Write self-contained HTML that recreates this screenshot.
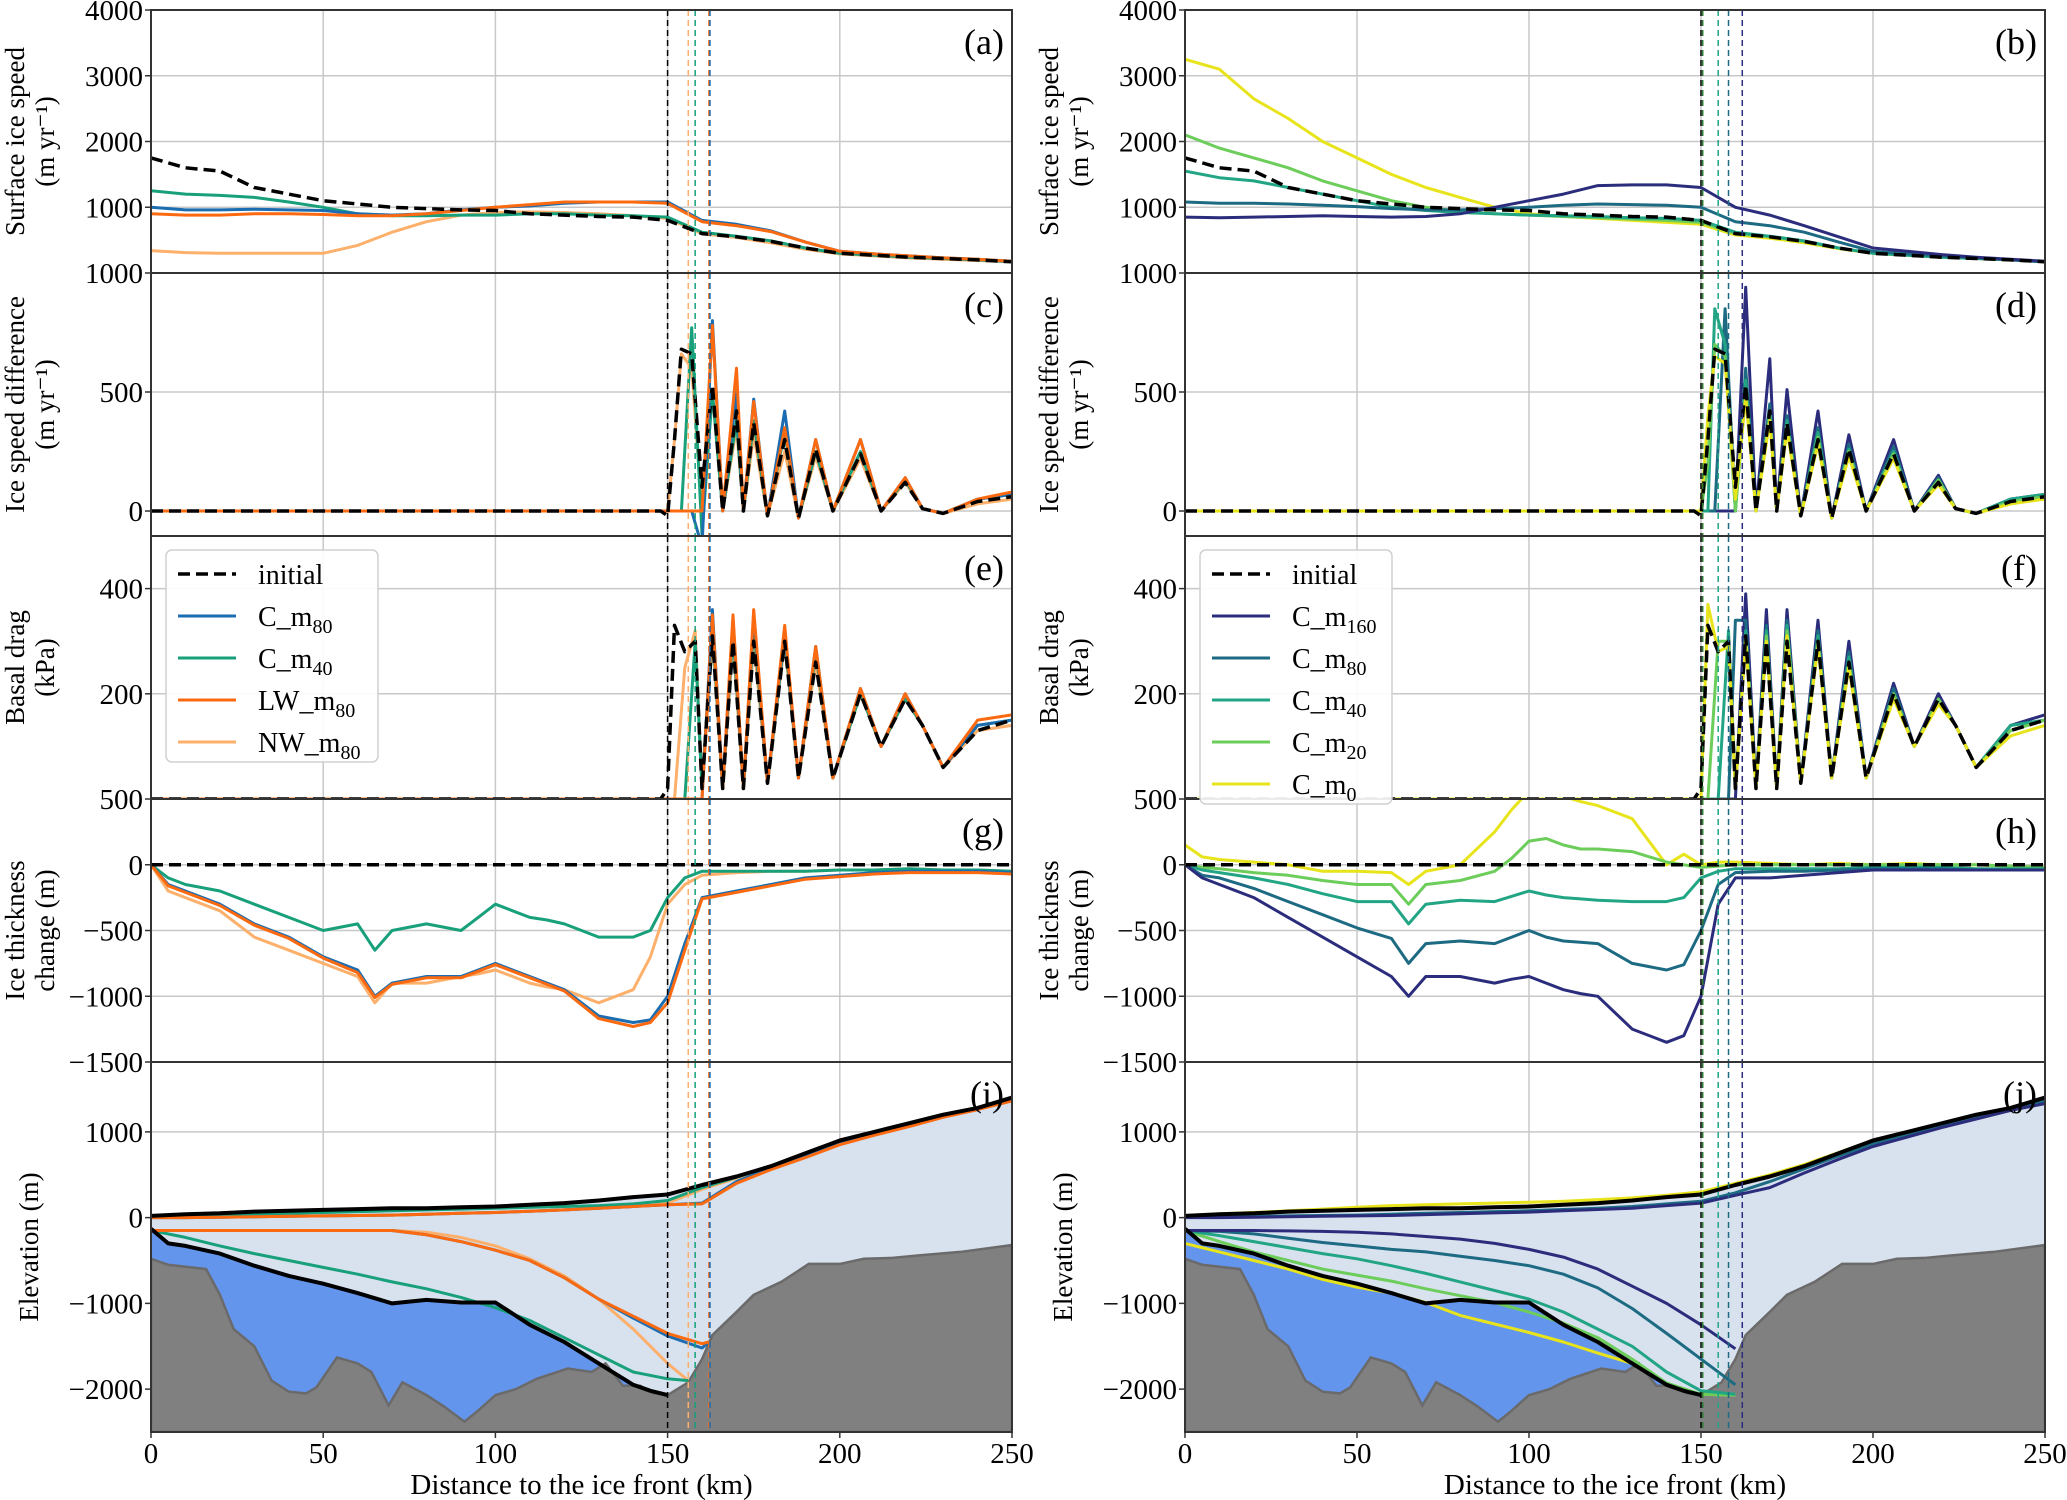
<!DOCTYPE html>
<html><head><meta charset="utf-8">
<style>
html,body{margin:0;padding:0;background:#fff;}
svg{display:block;font-family:"Liberation Serif","DejaVu Serif",serif;}
</style></head>
<body>
<svg id="fig" width="2067" height="1500" viewBox="0 0 2067 1500" xmlns="http://www.w3.org/2000/svg"></svg>
<script>
// ---------- DATA ----------
const X10 = [0,10,20,30,40,50,60,70,80,90,100,110,120,130,140,150,160,170,180,190,200,210,220,230,240,250];
// (a)/(b) surface speed
const a_initial = [1750,1600,1550,1300,1200,1100,1050,1000,980,960,950,900,880,860,850,800,600,550,480,380,300,270,240,220,200,170];
const a_Cm80 = [1000,960,960,970,960,950,900,880,900,960,1000,1020,1060,1080,1080,1080,800,740,640,470,330,290,260,230,210,180];
const a_Cm40 = [1250,1200,1180,1150,1080,1000,900,870,870,880,880,900,900,880,870,850,620,560,490,380,300,270,240,220,200,170];
const a_LW = [900,880,880,900,900,890,870,870,900,950,1000,1040,1080,1080,1080,1060,780,720,630,470,330,290,260,230,210,180];
const a_NW = [340,310,300,300,300,300,420,620,780,880,920,930,920,900,870,830,600,540,460,360,290,260,230,210,190,170];
const b_Cm160 = [850,840,850,860,870,860,850,860,900,1000,1100,1200,1330,1340,1340,1300,1000,880,720,550,380,330,280,240,210,180];
const b_Cm80 = [1080,1060,1060,1050,1030,1010,980,960,960,980,1000,1030,1050,1040,1030,1000,780,720,620,470,330,290,260,230,200,170];
const b_Cm40 = [1550,1450,1400,1300,1200,1100,1000,950,920,900,880,870,860,840,830,800,620,560,490,380,300,270,240,220,200,170];
const b_Cm20 = [2100,1900,1750,1600,1400,1250,1100,1000,940,900,880,860,840,820,800,770,600,550,480,380,300,270,240,220,200,170];
const b_Cm0 = [3250,3100,2650,2350,2000,1750,1500,1300,1150,1000,900,860,830,800,770,740,580,530,460,370,300,270,240,220,200,170];
// (c)/(d) speed difference
const XOSC = [0,50,100,140,148,150,152,154,157,160,163,166,170,172,175,179,184,188,193,198,206,212,219,224,230,240,250];
const c_initial = [0,0,0,0,0,-20,300,680,660,100,530,0,420,0,370,-20,300,-30,260,0,240,0,120,10,-10,40,60];
const c_Cm80 = [0,0,0,0,0,0,0,0,0,-150,800,0,500,0,470,-20,420,-30,300,0,300,0,140,10,-10,50,70];
const c_Cm40 = [0,0,0,0,0,0,0,0,770,-100,500,0,380,0,380,-20,330,-30,250,0,250,0,130,10,-10,50,70];
const c_LW = [0,0,0,0,0,0,0,0,0,0,780,0,600,0,460,-20,350,-30,300,0,300,0,140,10,-10,50,80];
const c_NW = [0,0,0,0,0,0,300,660,600,0,500,0,350,0,320,-20,250,-30,230,0,220,0,120,10,-10,30,50];
const d_Cm160 = [0,0,0,0,0,0,0,0,0,0,940,0,640,0,510,-20,420,-30,320,0,300,0,150,10,-10,50,70];
const d_Cm80 = [0,0,0,0,0,0,0,0,850,0,600,0,450,0,400,-20,350,-30,280,0,270,0,140,10,-10,50,70];
const d_Cm40 = [0,0,0,0,0,0,0,850,700,0,550,0,420,0,380,-20,330,-30,260,0,250,0,130,10,-10,50,70];
const d_Cm20 = [0,0,0,0,0,0,200,700,650,0,500,0,400,0,360,-20,310,-30,250,0,240,0,130,10,-10,40,60];
const d_Cm0 = [0,0,0,0,0,0,400,650,620,50,480,0,380,0,340,-20,280,-30,230,0,220,0,110,10,-10,30,50];
// (e)/(f) basal drag
const XDRAG = [0,100,148,150,152,155,158,160,163,166,169,172,175,179,184,188,193,198,206,212,219,224,230,240,250];
const e_initial = [0,0,0,20,330,280,300,20,310,20,300,20,300,30,300,40,260,40,200,100,190,140,60,130,150];
const e_Cm80 = [0,0,0,0,0,0,0,0,360,20,340,20,350,30,320,40,290,40,210,100,200,140,60,140,150];
const e_Cm40 = [0,0,0,0,0,0,300,20,330,20,320,20,330,30,310,40,280,40,200,100,190,140,60,140,150];
const e_LW = [0,0,0,0,0,0,0,0,350,20,350,20,360,30,330,40,290,40,210,100,200,140,60,150,160];
const e_NW = [0,0,0,0,0,250,320,20,310,20,300,20,300,30,300,40,260,40,200,100,190,140,60,130,140];
const f_Cm160 = [0,0,0,0,0,0,0,0,390,20,360,20,360,30,340,40,300,40,220,100,200,140,60,140,160];
const f_Cm80 = [0,0,0,0,0,0,0,340,340,20,330,20,340,30,320,40,280,40,210,100,190,140,60,140,150];
const f_Cm40 = [0,0,0,0,0,0,320,20,320,20,320,20,330,30,310,40,270,40,200,100,190,140,60,140,150];
const f_Cm20 = [0,0,0,0,0,300,300,20,310,20,310,20,320,30,300,40,260,40,200,100,190,140,60,130,150];
const f_Cm0 = [0,0,0,0,370,280,290,20,300,20,300,20,310,30,290,40,250,40,190,100,180,140,60,120,140];
// (g)/(h) thickness change
const XTHK = [0,5,10,20,30,40,50,60,65,70,80,90,95,100,105,110,115,120,130,140,145,150,155,160,170,180,190,200,210,220,230,240,250];
const g_initial = [0,0,0,0,0,0,0,0,0,0,0,0,0,0,0,0,0,0,0,0,0,0,0,0,0,0,0,0,0,0,0,0,0];
const g_Cm80 = [0,-150,-200,-300,-450,-550,-700,-800,-1000,-900,-850,-850,-800,-750,-800,-850,-900,-950,-1150,-1200,-1180,-1000,-600,-250,-200,-150,-100,-80,-60,-50,-50,-50,-60];
const g_Cm40 = [0,-100,-150,-200,-300,-400,-500,-450,-650,-500,-450,-500,-400,-300,-350,-400,-420,-450,-550,-550,-500,-250,-100,-50,-50,-50,-50,-40,-40,-30,-40,-40,-50];
const g_LW = [0,-160,-210,-310,-460,-560,-710,-820,-1010,-910,-860,-860,-810,-760,-810,-860,-910,-960,-1170,-1230,-1200,-1050,-650,-260,-210,-160,-110,-90,-70,-60,-60,-60,-70];
const g_NW = [0,-200,-250,-350,-550,-650,-750,-850,-1050,-900,-900,-850,-830,-800,-850,-900,-930,-950,-1050,-950,-700,-300,-150,-80,-60,-50,-50,-40,-40,-30,-40,-40,-50];
const h_Cm160 = [0,-100,-150,-250,-400,-550,-700,-850,-1000,-850,-850,-900,-870,-850,-900,-950,-980,-1000,-1250,-1350,-1300,-1000,-300,-100,-100,-80,-60,-40,-40,-40,-40,-40,-40];
const h_Cm80 = [0,-80,-100,-180,-280,-380,-480,-560,-750,-600,-580,-600,-550,-500,-550,-580,-590,-600,-750,-800,-760,-500,-150,-60,-50,-50,-40,-30,-30,-30,-40,-40,-40];
const h_Cm40 = [0,-40,-60,-100,-150,-220,-280,-280,-450,-300,-270,-280,-240,-200,-230,-250,-260,-270,-280,-280,-250,-100,-50,-30,-30,-30,-30,-20,-20,-20,-30,-30,-30];
const h_Cm20 = [0,-20,-30,-60,-80,-120,-150,-150,-300,-150,-120,-50,50,180,200,150,120,120,100,20,0,-20,-10,0,0,0,0,0,0,0,0,-10,-20];
const h_Cm0 = [150,60,40,20,0,-50,-50,-60,-150,-50,0,250,420,560,600,520,480,450,350,0,80,0,20,20,10,0,10,0,10,0,0,-10,-20];
// (i)/(j) geometry
const XBED = [0,5,16,20,24,30,35,40,45,48,54,60,64,69,73,80,85,91,95,100,106,112,121,128,132,137,142,146,150,156,160,163,170,175,183,191,200,207,215,223,235,250];
const bed = [-480,-550,-600,-900,-1300,-1500,-1900,-2030,-2050,-1980,-1630,-1700,-1800,-2190,-1920,-2070,-2200,-2380,-2250,-2070,-2000,-1880,-1760,-1800,-1700,-1960,-1960,-2050,-2070,-1920,-1650,-1370,-1100,-900,-750,-540,-540,-480,-470,-440,-400,-320];
const surf_initial = [20,40,50,70,80,90,100,110,110,120,130,150,170,200,240,270,380,480,600,750,900,1000,1100,1200,1280,1400];
const XBASE = [0,5,10,20,30,40,50,60,70,80,90,100,110,120,130,140,145,150];
const base_initial = [-130,-300,-330,-420,-560,-680,-770,-880,-1000,-960,-990,-990,-1250,-1450,-1700,-1950,-2020,-2070];
const i_surf_Cm40 = [10,20,30,40,50,60,70,80,90,100,110,120,130,140,160,200,350,470,600,750,880,980,1080,1180,1270,1380];
const i_surf_LW = [0,0,5,10,15,20,25,30,40,50,60,75,90,110,130,150,160,400,560,700,850,960,1060,1170,1260,1360];
const i_surf_Cm80 = [0,0,5,10,15,20,25,30,40,50,60,75,90,110,130,150,170,420,580,720,870,980,1070,1180,1270,1370];
const i_surf_NW = [0,0,5,10,15,20,25,30,40,50,60,75,90,110,130,170,330,460,590,740,880,980,1080,1180,1270,1380];
const XB162 = [0,10,20,30,40,50,60,70,80,90,100,110,120,130,140,150,160,162];
const i_base_LW = [-150,-150,-150,-150,-150,-150,-150,-150,-200,-280,-380,-500,-700,-950,-1150,-1350,-1470,-1450];
const i_base_Cm80 = [-150,-150,-150,-150,-150,-150,-150,-150,-200,-280,-380,-500,-700,-950,-1170,-1380,-1520,-1450];
const XB156 = [0,10,20,30,40,50,60,70,80,90,100,110,120,130,140,150,156];
const i_base_Cm40 = [-150,-230,-330,-420,-500,-580,-660,-750,-830,-930,-1050,-1200,-1400,-1600,-1800,-1880,-1900];
const i_base_NW = [-150,-150,-150,-150,-150,-150,-150,-150,-170,-230,-330,-480,-680,-950,-1300,-1700,-1900];
const j_surf_Cm160 = [0,0,5,10,15,20,25,35,45,55,65,80,95,110,140,170,260,350,520,680,830,940,1050,1150,1250,1330];
const j_surf_Cm80 = [5,10,15,20,25,30,40,50,60,70,80,95,110,130,160,190,290,420,570,720,860,970,1070,1170,1260,1360];
const j_surf_Cm0 = [25,45,60,80,100,120,140,150,160,170,180,190,210,230,260,300,400,500,620,760,900,1000,1100,1200,1280,1400];
const XBJ = [0,10,20,30,40,50,60,70,80,90,100,110,120,130,140,150,160];
const j_base_Cm160 = [-150,-150,-150,-155,-160,-170,-190,-220,-250,-300,-370,-460,-600,-800,-1000,-1250,-1530];
const j_base_Cm80 = [-150,-160,-190,-240,-290,-330,-370,-400,-450,-500,-560,-660,-820,-1060,-1350,-1650,-1950];
const j_base_Cm40 = [-150,-210,-280,-350,-420,-480,-560,-650,-750,-850,-950,-1100,-1300,-1500,-1800,-2020,-2060];
const j_base_Cm20 = [-150,-280,-400,-500,-600,-670,-740,-830,-910,-990,-1100,-1230,-1400,-1650,-1930,-2060,-2070];
const j_base_Cm0 = [-300,-400,-500,-600,-720,-810,-880,-990,-1140,-1240,-1340,-1450,-1580,-1700,-1950,-2060,-2070];
const xTicks = [0,50,100,150,200,250];

// ---------- STYLE ----------
const COL = {init:'#000', m160:'#2b2d7c', m80:'#1b6cb0', m40:'#17a07a', LW:'#fb6a10', NW:'#fdb06b',
  r80:'#1d6a83', r40:'#22a585', r20:'#6ccd5a', r0:'#e8e41b'};
const NS='http://www.w3.org/2000/svg';
const svg=document.getElementById('fig');
function el(tag,attrs,parent){const e=document.createElementNS(NS,tag);for(const k in attrs)e.setAttribute(k,attrs[k]);(parent||svg).appendChild(e);return e;}
const COLS=[{x0:151,x1:1012},{x0:1185,x1:2045}];
const ROWS=[{y0:10,y1:273,d:[0,4000]},{y0:273,y1:536,d:[-105,1000]},{y0:536,y1:799,d:[0,500]},{y0:799,y1:1062,d:[-1500,500]},{y0:1062,y1:1432,d:[-2500,1815]}];
function sx(c,v){return COLS[c].x0+(v/250)*(COLS[c].x1-COLS[c].x0);}
function sy(r,v){const R=ROWS[r];return R.y1-(v-R.d[0])/(R.d[1]-R.d[0])*(R.y1-R.y0);}
let clipN=0;
function clipFor(c,r){const id='clip'+(clipN++);const cp=el('clipPath',{id:id});el('rect',{x:COLS[c].x0,y:ROWS[r].y0,width:COLS[c].x1-COLS[c].x0,height:ROWS[r].y1-ROWS[r].y0},cp);return id;}
function pts(c,r,xs,ys){return xs.map((x,i)=>sx(c,x).toFixed(1)+','+sy(r,ys[i]).toFixed(1)).join(' ');}
function line(g,c,r,xs,ys,color,w,dash,name){
  const p=el('polyline',{points:pts(c,r,xs,ys),fill:'none',stroke:color,'stroke-width':w,'stroke-linejoin':'round'},g);
  if(dash)p.setAttribute('stroke-dasharray',dash);
  
  
  return p;
}

const yTickSets=[
  {grid:[1000,2000,3000],labels:[[4000,'4000'],[3000,'3000'],[2000,'2000'],[1000,'1000'],[0,'1000']]},
  {grid:[0,500],labels:[[500,'500'],[0,'0']]},
  {grid:[200,400],labels:[[400,'400'],[200,'200'],[0,'500']]},
  {grid:[0,-500,-1000],labels:[[0,'0'],[-500,'\u2212500'],[-1000,'\u22121000'],[-1500,'\u22121500']]},
  {grid:[1000,0,-1000,-2000],labels:[[1000,'1000'],[0,'0'],[-1000,'\u22121000'],[-2000,'\u22122000']]}
];
const yLabels=[['Surface ice speed','(m yr\u207B\u00B9)'],['Ice speed difference','(m yr\u207B\u00B9)'],['Basal drag','(kPa)'],['Ice thickness','change (m)'],['Elevation (m)']];
const letters=[['(a)','(b)'],['(c)','(d)'],['(e)','(f)'],['(g)','(h)'],['(i)','(j)']];
const vlines=[[[150,'#000'],[156,COL.NW],[158,COL.m40],[162,COL.LW],[162.3,COL.m80]],[[150,'#000'],[150.5,'#2e7d32'],[155,COL.r40],[158,COL.r80],[162,COL.m160]]];

for(let c=0;c<2;c++){
  for(let r=0;r<5;r++){
    const g=el('g',{});
    
    
    const R=ROWS[r];
    xTicks.forEach(t=>{if(t>0&&t<250)el('line',{x1:sx(c,t),x2:sx(c,t),y1:R.y0,y2:R.y1,stroke:'#c8c8c8','stroke-width':1.5},g);});
    yTickSets[r].grid.forEach(v=>el('line',{x1:COLS[c].x0,x2:COLS[c].x1,y1:sy(r,v),y2:sy(r,v),stroke:'#c8c8c8','stroke-width':1.5},g));
    const cid=clipFor(c,r);
    const dg=el('g',{'clip-path':'url(#'+cid+')'},g);
    drawPanel(dg,c,r);
    vlines[c].forEach(([v,col])=>el('line',{x1:sx(c,v),x2:sx(c,v),y1:R.y0,y2:R.y1,stroke:col,'stroke-width':1.5,'stroke-dasharray':'6,4'},g));
    el('rect',{x:COLS[c].x0,y:R.y0,width:COLS[c].x1-COLS[c].x0,height:R.y1-R.y0,fill:'none',stroke:'#333','stroke-width':2},g);
    yTickSets[r].labels.forEach(([v,t])=>{
      el('line',{x1:COLS[c].x0-6,x2:COLS[c].x0,y1:sy(r,v),y2:sy(r,v),stroke:'#333','stroke-width':1.5},g);
      const tx=el('text',{x:COLS[c].x0-8,y:sy(r,v)+10,'text-anchor':'end','font-size':29},g);tx.textContent=t;
      
      
    });
    const lt=el('text',{x:COLS[c].x1-8,y:R.y0+44,'text-anchor':'end','font-size':36},g);lt.textContent=letters[r][c];
    
    
    const cy=(R.y0+R.y1)/2; const lines=yLabels[r];
    const bx=c===0?24:1058;
    lines.forEach((s,i)=>{
      const xx = lines.length===1? bx+14 : bx+i*30;
      const yt=el('text',{x:xx,y:cy,'text-anchor':'middle','font-size':27,transform:'rotate(-90 '+xx+' '+cy+')'},g);
      yt.textContent=s;
      
      
    });
  }
  xTicks.forEach(t=>{
    el('line',{x1:sx(c,t),x2:sx(c,t),y1:1432,y2:1438,stroke:'#333','stroke-width':1.5});
    const tx=el('text',{x:sx(c,t),y:1463,'text-anchor':'middle','font-size':29});tx.textContent=t;
    
    
  });
  const xl=el('text',{x:(COLS[c].x0+COLS[c].x1)/2,y:1494,'text-anchor':'middle','font-size':29});
  xl.textContent='Distance to the ice front (km)';
  
  
}

function drawPanel(g,c,r){
  const L=c===0;
  if(r===0){
    if(L){line(g,c,r,X10,a_NW,COL.NW,3,null,'nw-m80-line');line(g,c,r,X10,a_Cm40,COL.m40,3,null,'c-m40-line');line(g,c,r,X10,a_Cm80,COL.m80,3,null,'c-m80-line');line(g,c,r,X10,a_LW,COL.LW,3,null,'lw-m80-line');}
    else{line(g,c,r,X10,b_Cm0,COL.r0,3,null,'c-m0-line');line(g,c,r,X10,b_Cm20,COL.r20,3,null,'c-m20-line');line(g,c,r,X10,b_Cm40,COL.r40,3,null,'c-m40-line');line(g,c,r,X10,b_Cm80,COL.r80,3,null,'c-m80-line');line(g,c,r,X10,b_Cm160,COL.m160,3,null,'c-m160-line');}
    line(g,c,r,X10,a_initial,'#000',3.5,'12,6','initial-line');
  } else if(r===1){
    if(L){line(g,c,r,XOSC,c_NW,COL.NW,3,null,'nw-m80-line');line(g,c,r,XOSC,c_Cm40,COL.m40,3,null,'c-m40-line');line(g,c,r,XOSC,c_Cm80,COL.m80,3,null,'c-m80-line');line(g,c,r,XOSC,c_LW,COL.LW,3,null,'lw-m80-line');}
    else{line(g,c,r,XOSC,d_Cm160,COL.m160,3,null,'c-m160-line');line(g,c,r,XOSC,d_Cm80,COL.r80,3,null,'c-m80-line');line(g,c,r,XOSC,d_Cm40,COL.r40,3,null,'c-m40-line');line(g,c,r,XOSC,d_Cm20,COL.r20,3,null,'c-m20-line');line(g,c,r,XOSC,d_Cm0,COL.r0,3,null,'c-m0-line');}
    line(g,c,r,XOSC,c_initial,'#000',3.5,'12,6','initial-line');
  } else if(r===2){
    if(L){line(g,c,r,XDRAG,e_NW,COL.NW,3,null,'nw-m80-line');line(g,c,r,XDRAG,e_Cm40,COL.m40,3,null,'c-m40-line');line(g,c,r,XDRAG,e_Cm80,COL.m80,3,null,'c-m80-line');line(g,c,r,XDRAG,e_LW,COL.LW,3,null,'lw-m80-line');}
    else{line(g,c,r,XDRAG,f_Cm160,COL.m160,3,null,'c-m160-line');line(g,c,r,XDRAG,f_Cm80,COL.r80,3,null,'c-m80-line');line(g,c,r,XDRAG,f_Cm40,COL.r40,3,null,'c-m40-line');line(g,c,r,XDRAG,f_Cm20,COL.r20,3,null,'c-m20-line');line(g,c,r,XDRAG,f_Cm0,COL.r0,3,null,'c-m0-line');}
    line(g,c,r,XDRAG,e_initial,'#000',3.5,'12,6','initial-line');
  } else if(r===3){
    if(L){line(g,c,r,XTHK,g_NW,COL.NW,3,null,'nw-m80-line');line(g,c,r,XTHK,g_Cm40,COL.m40,3,null,'c-m40-line');line(g,c,r,XTHK,g_Cm80,COL.m80,3,null,'c-m80-line');line(g,c,r,XTHK,g_LW,COL.LW,3,null,'lw-m80-line');}
    else{line(g,c,r,XTHK,h_Cm0,COL.r0,3,null,'c-m0-line');line(g,c,r,XTHK,h_Cm20,COL.r20,3,null,'c-m20-line');line(g,c,r,XTHK,h_Cm40,COL.r40,3,null,'c-m40-line');line(g,c,r,XTHK,h_Cm80,COL.r80,3,null,'c-m80-line');line(g,c,r,XTHK,h_Cm160,COL.m160,3,null,'c-m160-line');}
    line(g,c,r,XTHK,g_initial,'#000',3.5,'12,6','initial-line');
  } else {
    const yb=sy(r,-2500);
    let p=X10.map((x,i)=>sx(c,x)+','+sy(r,surf_initial[i])).join(' ');
    p+=' '+XBED.slice().reverse().map((x,i)=>sx(c,x)+','+sy(r,bed[XBED.length-1-i])).join(' ');
    const ice=el('polygon',{points:p,fill:'#d8e1ee'},g);
    
    
    let q=XBASE.map((x,i)=>sx(c,x)+','+sy(r,base_initial[i])).join(' ');
    const bi=XBED.filter(x=>x<=150);
    q+=' '+bi.slice().reverse().map(x=>sx(c,x)+','+sy(r,bed[XBED.indexOf(x)])).join(' ');
    const oc=el('polygon',{points:q,fill:'#6495ed'},g);
    
    
    let b=XBED.map((x,i)=>sx(c,x)+','+sy(r,bed[i])).join(' ')+' '+sx(c,250)+','+yb+' '+sx(c,0)+','+yb;
    const bd=el('polygon',{points:b,fill:'#808080',stroke:'#6a6a6a','stroke-width':2.5},g);
    
    
    if(L){
      line(g,c,r,X10,i_surf_NW,COL.NW,3,null,'nw-m80-surface');line(g,c,r,X10,i_surf_Cm40,COL.m40,3,null,'c-m40-surface');
      line(g,c,r,X10,i_surf_Cm80,COL.m80,3,null,'c-m80-surface');line(g,c,r,X10,i_surf_LW,COL.LW,3,null,'lw-m80-surface');
      line(g,c,r,XB156,i_base_NW,COL.NW,3,null,'nw-m80-base');line(g,c,r,XB156,i_base_Cm40,COL.m40,3,null,'c-m40-base');
      line(g,c,r,XB162,i_base_Cm80,COL.m80,3,null,'c-m80-base');line(g,c,r,XB162,i_base_LW,COL.LW,3,null,'lw-m80-base');
    } else {
      line(g,c,r,X10,j_surf_Cm0,COL.r0,3,null,'c-m0-surface');line(g,c,r,X10,j_surf_Cm80,COL.r80,3,null,'c-m80-surface');line(g,c,r,X10,j_surf_Cm160,COL.m160,3,null,'c-m160-surface');
      line(g,c,r,XBJ,j_base_Cm0,COL.r0,3,null,'c-m0-base');line(g,c,r,XBJ,j_base_Cm20,COL.r20,3,null,'c-m20-base');
      line(g,c,r,XBJ,j_base_Cm40,COL.r40,3,null,'c-m40-base');line(g,c,r,XBJ,j_base_Cm80,COL.r80,3,null,'c-m80-base');
      line(g,c,r,XBJ,j_base_Cm160,COL.m160,3,null,'c-m160-base');
    }
    line(g,c,r,X10,surf_initial,'#000',4,null,'initial-surface');
    line(g,c,r,XBASE,base_initial,'#000',4,null,'initial-base');
  }
}

function legend(x,y,w,h,items,name){
  const g=el('g',{});
  
  
  el('rect',{x:x,y:y,width:w,height:h,rx:6,fill:'#fff','fill-opacity':0.9,stroke:'#d0d0d0','stroke-width':1.5},g);
  items.forEach((it,i)=>{
    const yy=y+24+i*42;
    const ln=el('line',{x1:x+12,x2:x+70,y1:yy,y2:yy,stroke:it[1],'stroke-width':it[2]?3.5:3},g);
    if(it[2])ln.setAttribute('stroke-dasharray','12,6');
    const t=el('text',{x:x+92,y:yy+10,'font-size':28},g);
    t.innerHTML=it[0];
    
    
  });
}
const sub=(s)=>'<tspan font-size="20" dy="7">'+s+'</tspan>';
legend(166,550,212,212,[['initial','#000',1],['C_m'+sub('80'),COL.m80],['C_m'+sub('40'),COL.m40],['LW_m'+sub('80'),COL.LW],['NW_m'+sub('80'),COL.NW]],'legend-left');
legend(1200,550,192,254,[['initial','#000',1],['C_m'+sub('160'),COL.m160],['C_m'+sub('80'),COL.r80],['C_m'+sub('40'),COL.r40],['C_m'+sub('20'),COL.r20],['C_m'+sub('0'),COL.r0]],'legend-right');
</script>
</body></html>
